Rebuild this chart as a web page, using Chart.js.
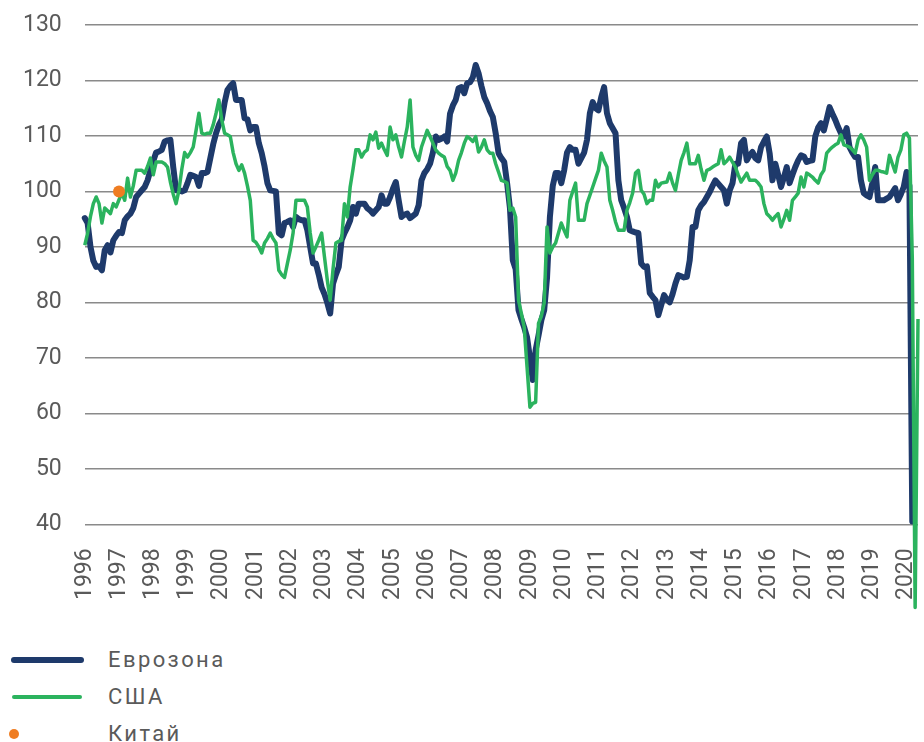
<!DOCTYPE html>
<html>
<head>
<meta charset="utf-8">
<script src="https://cdn.jsdelivr.net/npm/chart.js@4"></script>
<style>
  body { margin: 0; background: #fff; font-family: Roboto, sans-serif; }
  #wrap { position: absolute; left: 0; top: 0; width: 924px; height: 616px; }
  .legend { position: absolute; left: 0; top: 640px; color: #5a5a5a; font-size: 22px; letter-spacing: 2.4px; }
  .item { position: absolute; left: 0; height: 30px; width: 300px; }
  .item span { position: absolute; left: 108px; top: 0; line-height: 30px; }
  .mark { position: absolute; }
</style>
</head>
<body>
<div id="wrap"><canvas id="pmi-chart"></canvas></div>
<div class="legend">
  <div class="item" style="top:5px"><div class="mark" style="left:11px;top:12px;width:73px;height:6px;border-radius:3px;background:#1e3a6b"></div><span>Еврозона</span></div>
  <div class="item" style="top:42px"><div class="mark" style="left:12px;top:13px;width:70px;height:4px;border-radius:2px;background:#2bb35e"></div><span>США</span></div>
  <div class="item" style="top:79px"><div class="mark" style="left:9px;top:10px;width:10px;height:10px;border-radius:5px;background:#ef7d22"></div><span>Китай</span></div>
</div>
<script>
const years = [1996, 1997, 1998, 1999, 2000, 2001, 2002, 2003, 2004, 2005, 2006, 2007, 2008, 2009, 2010, 2011, 2012, 2013, 2014, 2015, 2016, 2017, 2018, 2019, 2020];

// monthly values, Jan 1996 onwards
const eurozone = [
  95.2, 94.3, 90, 87.5, 86.4, 86.5, 85.8, 89.4, 90.3, 89, 91.2, 92,
  92.7, 92.5, 94.8, 95.5, 96, 97, 99, 99.6, 100.2, 100.8, 102, 103.8,
  105.5, 107, 107.2, 107.5, 109, 109.2, 109.3, 104.4, 100.2, 100.3, 100, 100.2,
  101.5, 103, 102.8, 102.6, 101, 103.3, 103.3, 103.5, 106, 108.5, 110.5, 112,
  113, 116, 118.3, 119, 119.5, 116.5, 116.5, 116.5, 113.2, 113, 111, 111.6,
  111.6, 108.7, 106.9, 104.5, 101.5, 100.2, 100.1, 100, 92.5, 92.1, 94.3, 94.5,
  94.8, 93.6, 95.4, 95, 94.8, 94.8, 93, 90, 87, 87, 85, 82.7,
  81.5, 79.9, 78, 83.4, 85, 86.4, 91.2, 92.5, 93.5, 94.8, 97.2, 96,
  97.8, 97.8, 97.8, 97, 96.6, 96, 96.6, 97.2, 99.3, 97.8, 97.8, 99,
  100.5, 101.7, 98.4, 95.4, 95.8, 96, 95.2, 95.6, 96, 97.5, 102, 103.3,
  104, 105, 107, 109.9, 109.3, 109.5, 109.9, 109, 114, 115.5, 116.5, 118.6,
  118.8, 117.7, 119.5, 119.7, 120.6, 122.8, 121.3, 119, 117, 115.9, 114.5, 113.4,
  110.5, 106.9, 106, 105.3, 101.5, 97, 87.6, 86, 78.6, 77, 75.5, 73.7,
  70, 66, 71.4, 74, 76.8, 78.6, 84.5, 95.4, 101, 103.3, 103.3, 101.5,
  103.8, 107, 108, 107.5, 107.5, 105, 106, 107, 109.3, 114.1, 116.1, 115,
  114.6, 117, 118.8, 114.1, 112.3, 111.4, 110.5, 102, 98.4, 97, 95.4, 93,
  92.8, 92.6, 92.5, 87, 86.4, 86.5, 81.7, 81, 80.4, 77.7, 79.5, 81.3,
  80.5, 80, 81.5, 83.4, 84.9, 84.7, 84.5, 84.6, 87.6, 93.6, 93.6, 96.6,
  97.5, 98.1, 99, 99.9, 101, 102, 101.4, 100.8, 100.2, 97.8, 100.2, 101.5,
  105, 105, 108.7, 109.3, 105.6, 106.5, 107.1, 106, 105.6, 108, 109, 109.9,
  106.9, 102, 105, 103, 100.8, 102.5, 104.4, 101.5, 103, 104.4, 105.6, 106.5,
  106.3, 105.3, 105.5, 105.6, 109.9, 111.5, 112.3, 111, 113, 115.2, 114, 112.9,
  111.6, 110.5, 109.9, 111.4, 108, 107, 106.2, 106.2, 102, 99.7, 99.3, 99,
  101.5, 104.4, 98.4, 98.4, 98.4, 98.7, 99, 99.8, 100.6, 98.4, 99.5, 100.8,
  103.5, 101, 40.5
];

const usa = [
  90.3, 92.5, 95.5, 97.8, 99, 97.8, 94.3, 97, 96.5, 96, 97.8, 97.2,
  98.5, 99.7, 98.4, 102.4, 99, 101, 103.8, 103.8, 103.8, 103.3, 104.5, 106,
  103, 105.3, 105.3, 105.3, 105, 104.4, 101.7, 99.5, 97.8, 100.2, 104, 107,
  106.2, 107, 108, 111, 114.1, 110.5, 110.3, 110.5, 110.5, 112, 114.1, 116.5,
  112.9, 110.5, 110.2, 109.9, 107, 105, 103.8, 104.8, 103.3, 101, 98.4, 91.2,
  90.8, 90, 88.9, 90.7, 91.5, 92.5, 91.5, 90.7, 85.8, 85, 84.5, 87,
  89.4, 92.5, 98.4, 98.4, 98.4, 98.4, 97.2, 92.5, 88.9, 90, 91.2, 92.5,
  88.2, 84, 80.4, 86, 90.7, 91, 91.2, 97.8, 95.4, 100.8, 104, 107.5,
  107.5, 106.2, 107.1, 107.5, 110.2, 109.3, 110.7, 107.8, 108.7, 107.5, 106.5, 111.6,
  109.3, 110.2, 108, 106.2, 109, 111.6, 116.5, 108, 106.5, 105.6, 108, 109.5,
  111, 109.9, 108.7, 107.5, 106.9, 106.5, 106.2, 104.5, 103.8, 102, 103.3, 105.6,
  107, 108.7, 109.9, 109.5, 109, 109.9, 107.1, 108, 109.3, 107.5, 106.9, 106.9,
  105, 103.5, 102, 101.8, 101.5, 96.6, 97, 95.4, 80.4, 78, 75.5, 68.3,
  61.1, 61.8, 62, 76.2, 77.5, 79.9, 93.6, 88.9, 90, 90.7, 92.5, 94.3,
  93, 91.8, 98.4, 100, 101.5, 94.8, 94.8, 94.8, 97.8, 99.3, 100.8, 102.3,
  103.8, 106.9, 105.5, 104.4, 98.4, 96.6, 94.5, 93, 93, 93, 96.6, 98,
  99.7, 103.3, 103.8, 100.2, 99.5, 97.8, 98.4, 98.4, 102, 100.8, 101.5, 101.6,
  101.7, 103.3, 101.5, 100.2, 103, 105.6, 107, 108.7, 105, 105, 105, 106.5,
  104, 102, 103.8, 104, 104.4, 104.7, 105, 107.5, 105, 105.5, 106.2, 105.3,
  104.4, 103, 101.7, 102.5, 103.3, 102, 102, 102, 101.5, 100.8, 97.8, 96,
  95.5, 94.8, 95.5, 96, 93.6, 95, 96.6, 94.8, 98.4, 99, 99.7, 102.6,
  100.8, 103.3, 103, 102.6, 102, 101.5, 103, 103.8, 106.9, 107.5, 108, 108.4,
  108.7, 110.2, 108.4, 108.2, 108, 107.5, 106.9, 109.3, 110.2, 109.3, 108, 102,
  103, 103.8, 103.8, 103.6, 103.5, 103.3, 106.5, 105, 103.5, 106.2, 107.5, 110.2,
  110.5, 109.6, 88, 25, 77
];

const chinaMonth = '1997-01';
const chinaValue = 100;

const yTicks = [40, 50, 60, 70, 80, 90, 100, 110, 120, 130];

// month labels
const labels = [];
years.forEach(y => {
  for (let m = 1; m <= 12; m++) {
    if (labels.length < usa.length) labels.push(y + '-' + String(m).padStart(2, '0'));
  }
});

const china = labels.map(l => l === chinaMonth ? chinaValue : null);

const pmiChart = document.querySelector('#pmi-chart');

new Chart(pmiChart, {
  type: 'line',
  data: {
    labels: labels,
    datasets: [
      {
        label: 'Еврозона',
        data: eurozone,
        borderColor: '#1e3a6b',
        borderWidth: 6,
        pointRadius: 0,
        borderJoinStyle: 'round',
        borderCapStyle: 'round',
        clip: false,
        order: 2
      },
      {
        label: 'США',
        data: usa,
        borderColor: '#2bb35e',
        borderWidth: 3.5,
        pointRadius: 0,
        borderJoinStyle: 'round',
        clip: false,
        order: 1
      },
      {
        label: 'Китай',
        data: china,
        showLine: false,
        pointRadius: 6,
        pointBackgroundColor: '#ef7d22',
        pointBorderWidth: 0,
        order: 0
      }
    ]
  },
  options: {
    responsive: true,
    maintainAspectRatio: false,
    animation: false,
    layout: { padding: { top: 25, right: 2, left: 0, bottom: 0 } },
    plugins: { legend: { display: false }, tooltip: { enabled: false } },
    scales: {
      x: {
        grid: { display: false },
        border: { display: false },
        afterFit: axis => { axis.paddingRight = 0; axis.paddingLeft = 0; },
        ticks: {
          autoSkip: false,
          minRotation: 90,
          maxRotation: 90,
          padding: 16,
          color: '#5a5a5a',
          font: { family: 'Roboto', size: 23 },
          callback: function (value, index) {
            const l = labels[index];
            return l.endsWith('-01') ? l.slice(0, 4) : '';
          }
        }
      },
      y: {
        min: 40,
        max: 130,
        afterBuildTicks: axis => { axis.ticks = yTicks.map(v => ({ value: v })); },
        afterFit: axis => { axis.paddingTop = 0; axis.paddingBottom = 0; },
        grid: { color: '#8a8a8a', lineWidth: 1.5, drawTicks: false },
        border: { display: false },
        ticks: {
          padding: 23,
          color: '#5a5a5a',
          font: { family: 'Roboto', size: 23 }
        }
      }
    }
  }
});
</script>
</body>
</html>
